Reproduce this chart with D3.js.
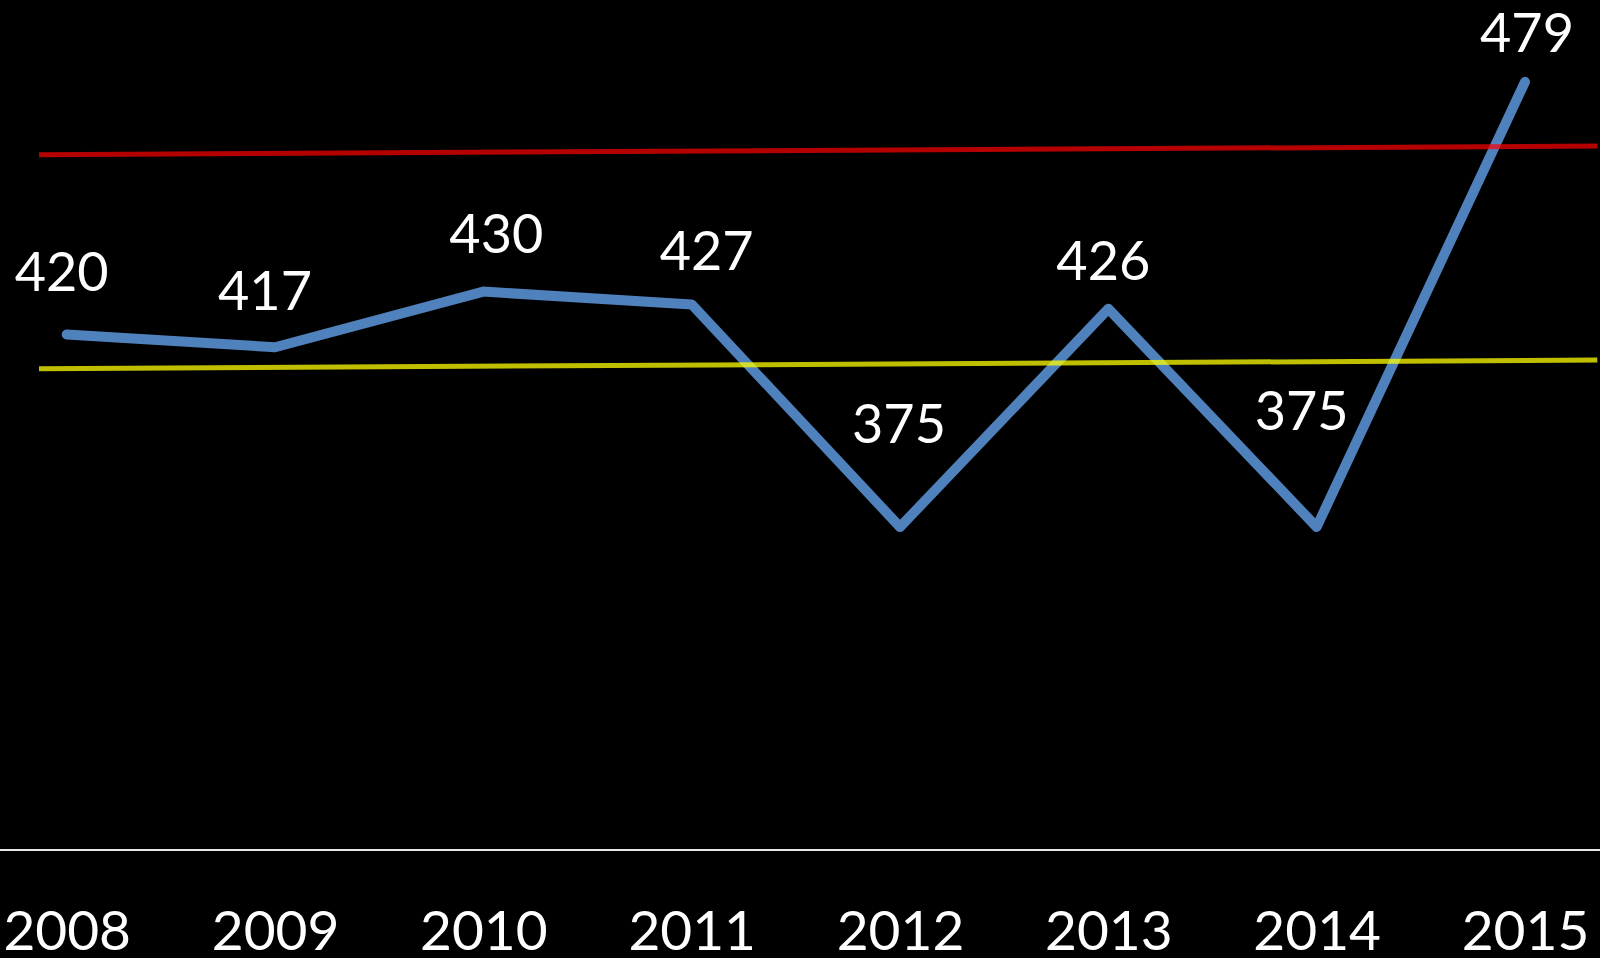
<!DOCTYPE html>
<html>
<head>
<meta charset="utf-8">
<script src="https://cdn.jsdelivr.net/npm/d3@7"></script>
<style>
  html, body { margin: 0; padding: 0; background: #000; overflow: hidden; }
  text { font-family: Lato, "Open Sans", sans-serif; fill: #fff; }
</style>
</head>
<body>
<svg id="chart" width="1600" height="958"></svg>
<script>
// data
const years = ["2008", "2009", "2010", "2011", "2012", "2013", "2014", "2015"];
const values = [420, 417, 430, 427, 375, 426, 375, 479];
const upperLine = [462, 464];   // red reference line, start / end value
const meanLine = [412, 414];    // yellow reference line, start / end value

// label nudges (px) so the numbers sit like in the original
const labelShift = [[-5, -43], [-10, -37], [13, -39], [15, -34], [-1, -84], [-5, -29], [-15, -97], [2, -30]];

const svg = d3.select("#chart"),
      width = 1600,
      height = 958;

const x = d3.scalePoint().domain(years).range([66.7, 1525]);
const y = d3.scaleLinear().domain([300, 500]).range([848, -8]);

// reference lines run a bit beyond the first and last category
const idx = d3.scaleLinear().domain([0, years.length - 1]).range(x.range());
const refExtent = [-0.133, 7.347];

// x axis: plain baseline plus year labels
svg.append("line")
  .attr("x1", 0).attr("x2", width)
  .attr("y1", y(300) + 2).attr("y2", y(300) + 2)
  .attr("stroke", "#e8e8e8")
  .attr("stroke-width", 2);

const xAxis = svg.append("g")
  .attr("transform", `translate(0,${y(300) + 2})`)
  .call(d3.axisBottom(x).tickSize(0).tickPadding(0));
xAxis.select(".domain").remove();
xAxis.selectAll("text")
  .attr("y", 100)
  .attr("dy", 0)
  .style("font-size", "55px")
  .style("fill", "#fff")
  .style("font-family", "Lato, 'Open Sans', sans-serif");

// main series
const line = d3.line()
  .x((d, i) => x(years[i]))
  .y(d => y(d));

svg.append("path")
  .datum(values)
  .attr("d", line)
  .attr("fill", "none")
  .attr("stroke", "#4f81bd")
  .attr("stroke-width", 10)
  .attr("stroke-linecap", "round")
  .attr("stroke-linejoin", "round");

// reference lines drawn on top, semi transparent
[[upperLine, "rgba(255,0,0,0.71)"], [meanLine, "rgba(255,255,0,0.75)"]].forEach(([vals, col]) => {
  svg.append("line")
    .attr("x1", idx(refExtent[0])).attr("x2", idx(refExtent[1]))
    .attr("y1", y(vals[0])).attr("y2", y(vals[1]))
    .attr("stroke", col)
    .attr("stroke-width", 5);
});

// data labels
svg.selectAll("text.lbl")
  .data(values)
  .enter().append("text")
  .attr("class", "lbl")
  .attr("x", (d, i) => x(years[i]) + labelShift[i][0])
  .attr("y", (d, i) => y(d) + labelShift[i][1])
  .attr("text-anchor", "middle")
  .style("font-size", "54px")
  .text(d => d);
</script>
</body>
</html>
